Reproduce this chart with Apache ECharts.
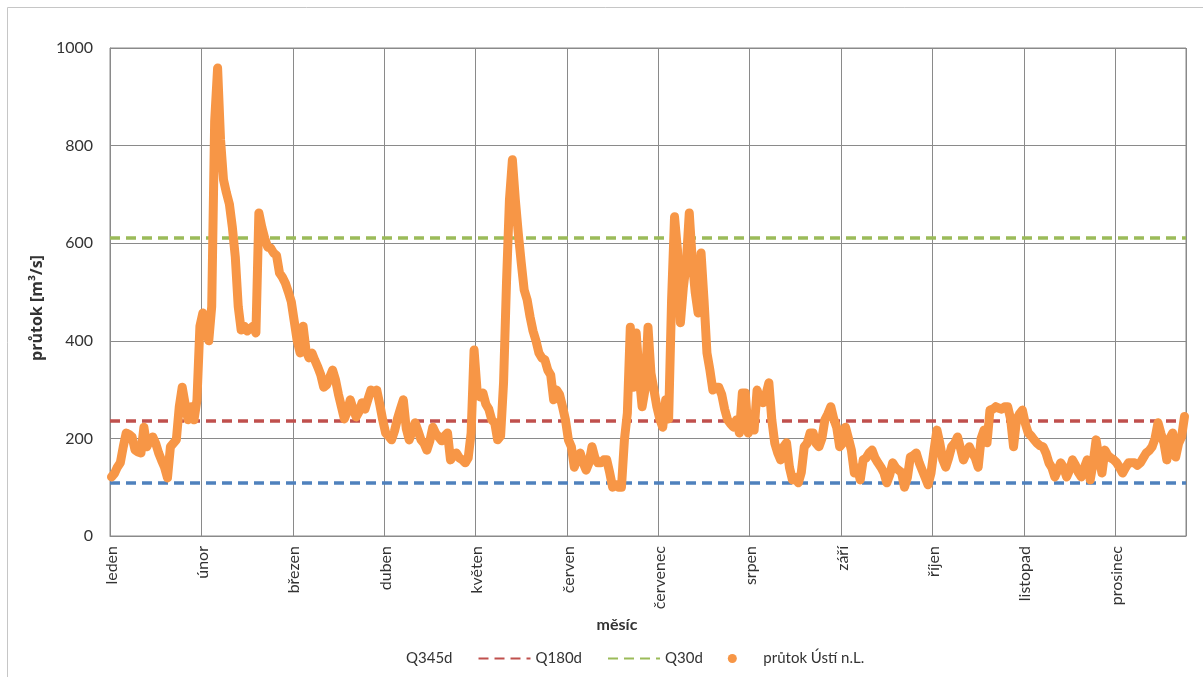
<!DOCTYPE html>
<html>
<head>
<meta charset="utf-8">
<script src="https://cdn.jsdelivr.net/npm/echarts@6/dist/echarts.min.js"></script>
<style>
  html, body { margin: 0; padding: 0; background: #fff; }
  #chart { width: 1203px; height: 677px; }
</style>
</head>
<body>
<div id="chart"></div>
<script>
// Month labels, one every 31 days along the daily axis
const months = ['leden', 'únor', 'březen', 'duben', 'květen', 'červen',
  'červenec', 'srpen', 'září', 'říjen', 'listopad', 'prosinec'];

// Characteristic flows [m3/s]
const q345d = 110;
const q180d = 236;
const q30d = 611;

// Daily flow at Ústí nad Labem [m3/s], 365 days
const flow = [
  // leden
  121,128,141,150,183,211,208,203,176,172,170,223,183,195,203,190,170,155,141,119,183,190,197,265,305,270,238,265,238,279,430,
  // únor
  457,428,400,470,850,959,812,730,703,680,633,572,470,422,430,420,425,430,416,662,633,610,592,590,580,575,539,530,518,500,480,
  // březen
  440,400,375,430,380,365,375,360,346,330,305,310,325,340,320,290,265,240,255,279,260,244,255,273,260,280,299,295,299,270,238,
  // duben
  211,205,197,215,240,260,279,220,197,215,232,215,197,190,176,195,223,210,203,195,205,211,156,165,170,160,156,150,160,211,381,
  // květen
  300,285,293,270,260,238,232,197,205,314,519,689,771,689,620,560,504,484,449,420,400,375,365,361,340,330,279,299,290,265,238,
  // červen
  197,183,141,160,170,150,135,150,183,160,150,150,156,156,130,100,105,100,100,197,252,428,305,416,330,265,300,428,334,300,265,
  // červenec
  240,223,279,240,484,654,586,437,510,560,662,566,500,457,580,484,375,340,299,305,305,290,260,238,230,223,238,211,293,293,211,
  // srpen
  240,217,299,280,273,290,314,238,190,170,156,183,191,140,115,120,109,130,183,190,211,211,190,183,200,238,250,265,240,223,183,
  // září
  190,223,200,176,129,140,115,156,160,170,176,160,150,141,130,109,125,150,140,135,130,100,120,162,165,170,150,135,120,105,129,
  // říjen
  175,217,190,156,141,160,183,190,203,180,156,170,183,170,160,141,200,217,191,258,260,265,262,260,265,265,240,183,238,250,258,
  // listopad
  230,211,205,197,190,185,183,170,150,140,121,135,150,140,121,135,156,145,130,121,140,156,115,150,197,160,129,176,165,160,156,
  // prosinec
  150,140,129,140,150,150,150,145,150,160,170,175,183,200,232,210,191,156,200,211,162,190,203,245
];

const yTicks = { min: 0, max: 1000, interval: 200 };
const daysPerLabel = 31;

const days = flow.map((_, i) => String(i + 1));

const textColor = '#333';
const gridColor = '#8a8a8a';
const fontFamily = 'Lato, "Open Sans", sans-serif';
const dash = [10, 6];

function thresholdSeries(name, value, color) {
  return {
    name: name,
    type: 'line',
    data: [],
    symbol: 'none',
    lineStyle: { color: color, width: 3.5, type: dash },
    itemStyle: { color: color },
    markLine: {
      silent: true,
      symbol: ['none', 'none'],
      label: { show: false },
      lineStyle: { color: color, width: 3.5, type: dash },
      data: [{ yAxis: value }]
    }
  };
}

const chart = echarts.init(document.getElementById('chart'), null, { renderer: 'canvas' });

chart.setOption({
  animation: false,
  backgroundColor: '#fff',
  textStyle: { fontFamily: fontFamily, color: textColor },
  graphic: [{
    type: 'rect',
    silent: true,
    shape: { x: 7.5, y: 7.5, width: 1300, height: 800 },
    style: { fill: 'none', stroke: '#c6c6c6', lineWidth: 1 }
  }],
  grid: {
    left: 110, right: 17, top: 48, bottom: 141,
    show: true, borderColor: gridColor, borderWidth: 1,
    containLabel: false
  },
  legend: {
    left: 343,
    top: 646,
    itemWidth: 52,
    itemHeight: 9,
    itemGap: 25,
    textStyle: { fontSize: 15, color: textColor, fontFamily: fontFamily },
    data: [
      { name: 'Q345d', lineStyle: { opacity: 0 }, itemStyle: { opacity: 0 } },
      { name: 'Q180d', itemStyle: { opacity: 0 } },
      { name: 'Q30d', itemStyle: { opacity: 0 } },
      { name: 'průtok Ústí n.L.', icon: 'circle' }
    ]
  },
  xAxis: {
    type: 'category',
    data: days,
    boundaryGap: true,
    name: 'měsíc',
    nameLocation: 'middle',
    nameGap: 77,
    nameTextStyle: { fontSize: 16, fontWeight: 'bold', color: textColor, padding: [0, 62, 0, 0] },
    axisLine: { show: true, lineStyle: { color: gridColor, width: 1 } },
    axisTick: { show: false, interval: daysPerLabel - 1 },
    axisLabel: {
      interval: daysPerLabel - 1,
      rotate: 90,
      margin: 10,
      fontSize: 16,
      color: textColor,
      formatter: function (value, index) {
        const m = index / daysPerLabel;
        return Number.isInteger(m) && months[m] ? months[m] : '';
      }
    },
    splitLine: { show: true, interval: daysPerLabel - 1, lineStyle: { color: gridColor, width: 1 } }
  },
  yAxis: {
    type: 'value',
    min: yTicks.min,
    max: yTicks.max,
    interval: yTicks.interval,
    name: 'průtok [m³/s]',
    nameLocation: 'middle',
    nameGap: 58,
    nameRotate: 90,
    nameTextStyle: {
      fontSize: 16, fontWeight: 'bold', color: textColor,
      fontFamily: '"Open Sans", "Noto Sans", sans-serif',
      padding: [0, 32, 0, 0]
    },
    axisLine: { show: true, lineStyle: { color: gridColor, width: 1 } },
    axisTick: { show: false },
    axisLabel: {
      fontSize: 16, color: textColor, margin: 17,
      formatter: function (v) { return String(v); }
    },
    splitLine: { show: true, lineStyle: { color: gridColor, width: 1 } }
  },
  series: [
    thresholdSeries('Q345d', q345d, '#4F81BD'),
    thresholdSeries('Q180d', q180d, '#C0504D'),
    thresholdSeries('Q30d', q30d, '#9BBB59'),
    {
      name: 'průtok Ústí n.L.',
      type: 'line',
      data: flow,
      symbol: 'none',
      showSymbol: false,
      z: 5,
      itemStyle: { color: '#F79646' },
      lineStyle: { color: '#F79646', width: 9, cap: 'round', join: 'round' }
    }
  ]
});
</script>
</body>
</html>
